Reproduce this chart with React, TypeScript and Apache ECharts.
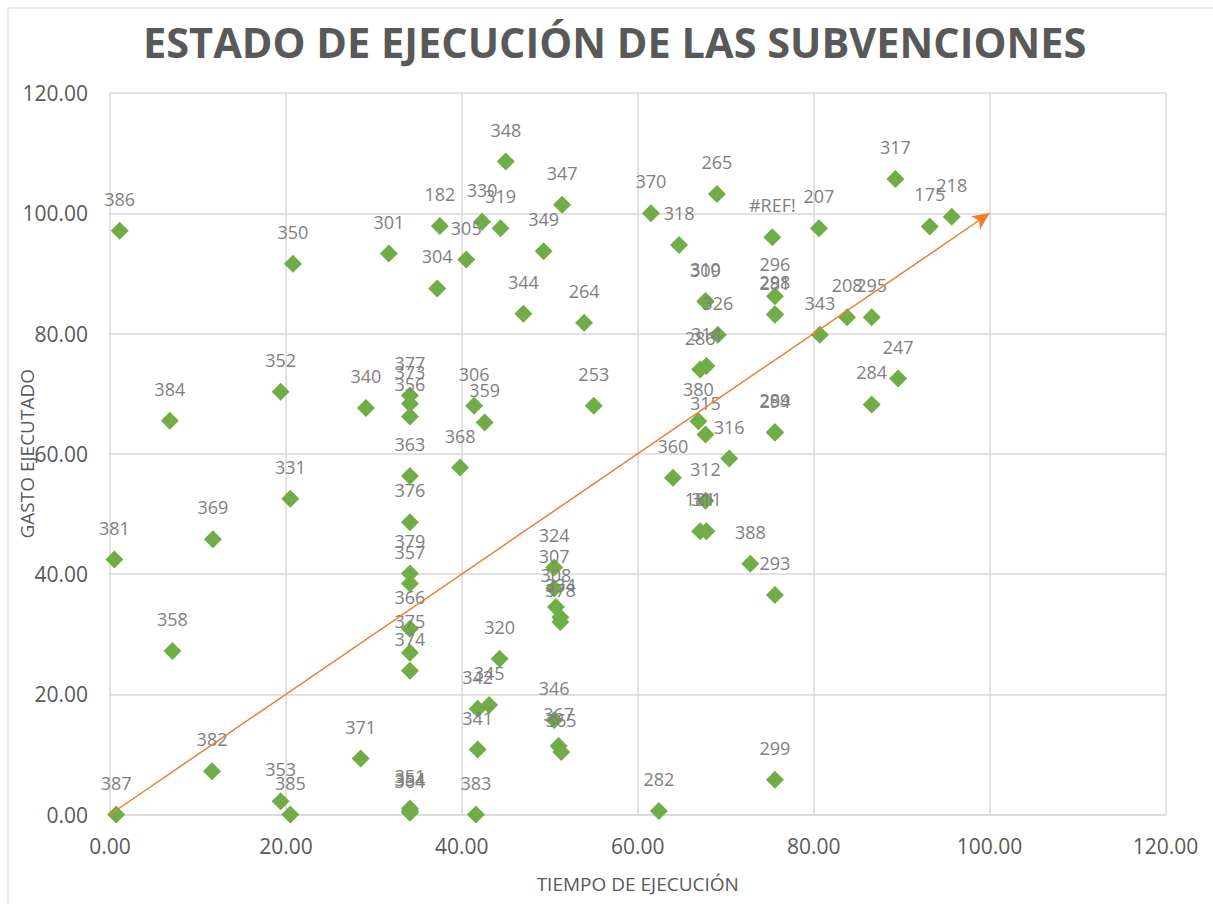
import React, { useEffect, useRef } from "react";
import * as echarts from "echarts";

const pointLabels = [
  "386", "350", "301", "182", "304", "305", "330", "319", "348", "347",
  "349", "344", "264", "370", "318", "265", "#REF!", "207", "317", "175",
  "218", "309", "310", "326", "286", "314", "296", "281", "298", "343",
  "208", "295", "247", "284", "352", "384", "340", "331", "369", "381",
  "377", "373", "356", "306", "359", "253", "368", "363", "376", "379",
  "357", "366", "375", "374", "351", "354", "364", "320", "342", "345",
  "341", "383", "346", "367", "365", "282", "324", "307", "308", "334",
  "378", "360", "380", "315", "316", "312", "181", "311", "388", "293",
  "289", "294", "299", "358", "382", "371", "353", "385", "387",
];

const tiempo = [
  1.1, 20.8, 31.7, 37.5, 37.2, 40.5, 42.3, 44.4, 45.0, 51.4,
  49.3, 47.0, 53.9, 61.5, 64.7, 69.0, 75.3, 80.6, 89.3, 93.2,
  95.7, 67.7, 67.7, 69.1, 67.1, 67.8, 75.6, 75.6, 75.6, 80.7,
  83.8, 86.6, 89.6, 86.6, 19.4, 6.8, 29.1, 20.5, 11.7, 0.5,
  34.1, 34.1, 34.1, 41.4, 42.6, 55.0, 39.8, 34.1, 34.1, 34.1,
  34.1, 34.1, 34.1, 34.1, 34.1, 34.1, 34.1, 44.3, 41.8, 43.1,
  41.8, 41.6, 50.5, 51.0, 51.3, 62.4, 50.5, 50.5, 50.7, 51.2,
  51.2, 64.0, 66.9, 67.7, 70.4, 67.7, 67.1, 67.8, 72.8, 75.6,
  75.6, 75.6, 75.6, 7.1, 11.6, 28.5, 19.4, 20.5, 0.7,
];

const gasto = [
  97.1, 91.6, 93.3, 97.9, 87.5, 92.3, 98.6, 97.5, 108.6, 101.4,
  93.7, 83.3, 81.8, 100.0, 94.7, 103.2, 96.0, 97.5, 105.7, 97.8,
  99.4, 85.3, 85.4, 79.8, 74.0, 74.6, 86.2, 83.1, 83.2, 79.8,
  82.7, 82.7, 72.5, 68.2, 70.3, 65.5, 67.6, 52.5, 45.8, 42.4,
  69.7, 68.3, 66.2, 68.0, 65.2, 68.0, 57.7, 56.3, 48.6, 40.1,
  38.4, 30.9, 26.9, 23.9, 1.0, 0.6, 0.3, 25.9, 17.6, 18.2,
  10.8, 0.0, 15.7, 11.4, 10.4, 0.6, 41.1, 37.6, 34.5, 32.8,
  32.0, 56.0, 65.4, 63.2, 59.2, 52.2, 47.1, 47.1, 41.7, 36.5,
  63.6, 63.5, 5.8, 27.2, 7.2, 9.3, 2.2, 0.0, 0.0,
];

const axisTicks = [0, 20, 40, 60, 80, 100, 120];
const referenceLine = [
  [0, 0],
  [100, 100],
];

const FONT = "'Open Sans', sans-serif";
const GRID = "#d9d9d9";
const TEXT = "#595959";

export default function App() {
  const ref = useRef<HTMLDivElement>(null);

  useEffect(() => {
    if (!ref.current) return;
    const chart = echarts.init(ref.current, undefined, { renderer: "svg" });
    const data = pointLabels.map((name, i) => ({
      name,
      value: [tiempo[i], gasto[i]],
    }));
    const axisMin = axisTicks[0];
    const axisMax = axisTicks[axisTicks.length - 1];
    const step = axisTicks[1] - axisTicks[0];

    chart.setOption({
      animation: false,
      backgroundColor: "#ffffff",
      textStyle: { fontFamily: FONT },
      title: {
        text: "ESTADO DE EJECUCIÓN DE LAS SUBVENCIONES",
        left: 143,
        top: 21,
        padding: 0,
        textStyle: {
          fontFamily: FONT,
          fontSize: 41.5,
          fontWeight: "bold",
          color: TEXT,
        },
      },
      graphic: [
        {
          type: "rect",
          shape: { x: 8, y: 8, width: 1220, height: 920 },
          style: { fill: "none", stroke: GRID, lineWidth: 1 },
          silent: true,
        },
      ],
      grid: {
        left: 110,
        right: 47.5,
        top: 93,
        bottom: 89.5,
        containLabel: false,
        outerBoundsMode: "none",
      },
      xAxis: {
        type: "value",
        min: axisMin,
        max: axisMax,
        interval: step,
        name: "TIEMPO DE EJECUCIÓN",
        nameLocation: "middle",
        nameGap: 60,
        nameMoveOverlap: false,
        nameTextStyle: { fontFamily: FONT, fontSize: 19, color: TEXT },
        axisLine: { show: true, lineStyle: { color: GRID, width: 1.5 } },
        axisTick: { show: false },
        axisLabel: {
          margin: 21,
          fontFamily: FONT,
          fontSize: 21,
          color: TEXT,
          formatter: (v: number) => v.toFixed(2),
        },
        splitLine: { show: true, lineStyle: { color: GRID, width: 1.5 } },
      },
      yAxis: {
        type: "value",
        min: axisMin,
        max: axisMax,
        interval: step,
        name: "GASTO EJECUTADO",
        nameLocation: "middle",
        nameRotate: 90,
        nameGap: 74,
        nameMoveOverlap: false,
        nameTextStyle: { fontFamily: FONT, fontSize: 19, color: TEXT },
        axisLine: { show: false },
        axisTick: { show: false },
        axisLabel: {
          margin: 22,
          fontFamily: FONT,
          fontSize: 21,
          color: TEXT,
          formatter: (v: number) => v.toFixed(2),
        },
        splitLine: { show: true, lineStyle: { color: GRID, width: 1.5 } },
      },
      series: [
        {
          type: "scatter",
          symbol: "diamond",
          symbolSize: 18,
          itemStyle: { color: "#70AD47", opacity: 1 },
          data,
          label: {
            show: true,
            position: "top",
            distance: 14,
            formatter: "{b}",
            fontFamily: FONT,
            fontSize: 18,
            color: "#7f7f7f",
          },
          markLine: {
            silent: true,
            symbol: ["none", "arrow"],
            symbolSize: [12, 17],
            label: { show: false },
            lineStyle: { color: "#ED7D31", width: 1.5, type: "solid", opacity: 1 },
            emphasis: { disabled: true },
            data: [
              [
                { coord: referenceLine[0] },
                { coord: referenceLine[1] },
              ],
            ],
          },
          z: 3,
        },
      ],
    });

    return () => chart.dispose();
  }, []);

  return (
    <div
      ref={ref}
      style={{ position: "absolute", left: 0, top: 0, width: 1213, height: 904 }}
    />
  );
}
